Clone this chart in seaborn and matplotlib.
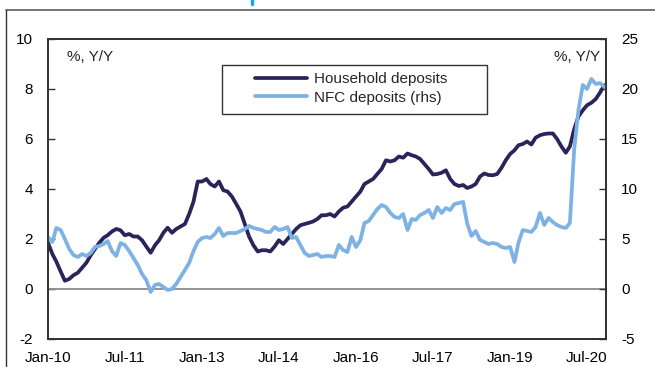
import matplotlib
matplotlib.use("Agg")
import matplotlib.pyplot as plt
from matplotlib.lines import Line2D
from matplotlib.patches import Rectangle
import seaborn as sns
import pandas as pd

# ---- data (monthly, Jan-2010 .. Nov-2020) ----
household = [1.85, 1.4, 1.1, 0.7, 0.33, 0.4, 0.55, 0.65, 0.85, 1.05,
             1.35, 1.6, 1.85, 2.05, 2.15, 2.3, 2.4, 2.35, 2.15, 2.2,
             2.1, 2.1, 1.95, 1.7, 1.45, 1.75, 1.95, 2.25, 2.45, 2.25,
             2.4, 2.5, 2.6, 3.0, 3.5, 4.3, 4.3, 4.4, 4.2, 4.1,
             4.3, 3.95, 3.9, 3.7, 3.4, 3.1, 2.6, 2.1, 1.75, 1.5,
             1.55, 1.55, 1.5, 1.7, 1.95, 1.8, 2.0, 2.2, 2.4, 2.55,
             2.6, 2.65, 2.7, 2.8, 2.95, 2.95, 3.0, 2.9, 3.1, 3.25,
             3.3, 3.5, 3.7, 3.9, 4.2, 4.3, 4.4, 4.6, 4.8, 5.15,
             5.1, 5.15, 5.3, 5.25, 5.42, 5.35, 5.3, 5.2, 5.0, 4.8,
             4.58, 4.6, 4.65, 4.75, 4.4, 4.2, 4.12, 4.16, 4.04, 4.1,
             4.2, 4.5, 4.62, 4.56, 4.55, 4.6, 4.85, 5.15, 5.4, 5.55,
             5.75, 5.8, 5.9, 5.78, 6.05, 6.15, 6.2, 6.22, 6.22, 6.0,
             5.7, 5.45, 5.7, 6.4, 6.9, 7.15, 7.35, 7.45, 7.6, 7.85,
             8.15]
nfc = [5.2, 4.7, 6.1, 5.9, 5.0, 4.0, 3.4, 3.2, 3.5, 3.3,
       3.6, 4.2, 4.3, 4.5, 4.8, 3.8, 3.3, 4.6, 4.4, 3.8,
       3.1, 2.4, 1.5, 0.9, -0.3, 0.4, 0.5, 0.2, -0.1, 0.0,
       0.5, 1.2, 1.9, 2.6, 3.8, 4.7, 5.1, 5.2, 5.1, 5.5,
       6.1, 5.3, 5.6, 5.6, 5.6, 5.8, 6.0, 6.3, 6.1, 6.0,
       5.9, 5.7, 5.7, 6.2, 5.9, 6.0, 6.2, 5.1, 5.2, 4.4,
       3.6, 3.3, 3.4, 3.5, 3.2, 3.3, 3.3, 3.2, 4.4, 3.9,
       3.7, 5.2, 4.2, 4.9, 6.6, 6.8, 7.4, 8.0, 8.4, 8.2,
       7.6, 7.2, 7.1, 7.5, 5.9, 7.0, 6.9, 7.4, 7.6, 7.9,
       7.1, 8.2, 7.6, 8.1, 7.9, 8.5, 8.6, 8.7, 6.6, 5.3,
       5.8, 4.9, 4.7, 4.5, 4.6, 4.5, 4.2, 4.1, 4.2, 2.7,
       4.6, 5.9, 5.8, 5.7, 6.2, 7.6, 6.4, 7.1, 6.7, 6.4,
       6.2, 6.1, 6.6, 14.0, 17.9, 20.4, 20.0, 21.0, 20.5, 20.6,
       20.2]
dates = pd.date_range("2010-01-01", periods=len(household), freq="MS")
tick_dates = ["2010-01-01", "2011-07-01", "2013-01-01", "2014-07-01",
              "2016-01-01", "2017-07-01", "2019-01-01", "2020-07-01"]
tick_labels = ["Jan-10", "Jul-11", "Jan-13", "Jul-14",
               "Jan-16", "Jul-17", "Jan-19", "Jul-20"]
left_ticks = [-2, 0, 2, 4, 6, 8, 10]
right_ticks = [-5, 0, 5, 10, 15, 20, 25]

df = pd.DataFrame({"date": dates, "household": household, "nfc": nfc})

sns.set_theme(style="white")
plt.rcParams["font.family"] = ["Liberation Sans", "DejaVu Sans"]
plt.rcParams["axes.unicode_minus"] = False

W, H = 655, 367
fig = plt.figure(figsize=(W / 100, H / 100), dpi=100)
ax = fig.add_axes([48 / W, 1 - 339 / H, (606 - 48) / W, 300 / H])
ax2 = ax.twinx()

navy = "#29245a"
light = "#7fb2e4"

ax.axhline(0, color="#8a8a8a", lw=1.3, zorder=1)
sns.lineplot(data=df, x="date", y="household", ax=ax, color=navy, lw=2.7,
             label="Household deposits", legend=False)
sns.lineplot(data=df, x="date", y="nfc", ax=ax2, color=light, lw=2.7,
             label="NFC deposits (rhs)", legend=False)

ax.set_ylim(-2, 10)
ax2.set_ylim(-5, 25)
ax.set_yticks(left_ticks)
ax2.set_yticks(right_ticks)
ax.set_xlim(pd.Timestamp("2010-01-01"), pd.Timestamp("2020-11-13"))
ax.set_xticks(pd.to_datetime(tick_dates))
ax.set_xticklabels(tick_labels)
ax.set_xlabel("")
ax.set_ylabel("")
ax2.set_ylabel("")

for a in (ax, ax2):
    for s in a.spines.values():
        s.set_visible(True)
        s.set_color("#333333")
        s.set_linewidth(1.3)
ax.tick_params(axis="y", direction="in", length=5, width=1, color="#333333",
               pad=11, labelsize=11, labelcolor="black", left=True)
ax2.tick_params(axis="y", direction="in", length=5, width=1, color="#333333",
                pad=11, labelsize=11, labelcolor="black", right=True)
ax.tick_params(axis="x", length=0, pad=9, labelsize=11, labelcolor="black")

# unit labels
fig.text(67 / W, 1 - 57 / H, "%, Y/Y", ha="left", va="center", fontsize=11)
fig.text(600 / W, 1 - 57 / H, "%, Y/Y", ha="right", va="center", fontsize=11)

# legend
h1 = Line2D([], [], color=navy, lw=2.7)
h2 = Line2D([], [], color=light, lw=2.7)
leg = fig.legend([h1, h2], ["Household deposits", "NFC deposits (rhs)"],
                 loc="upper left", bbox_to_anchor=(255 / W, 1 - 72 / H),
                 bbox_transform=fig.transFigure, frameon=False,
                 borderpad=0, borderaxespad=0, handlelength=3.4,
                 handletextpad=0.45, labelspacing=0.3, fontsize=11)
fig.add_artist(Rectangle((222 / W, 1 - 114 / H), (487 - 222) / W, 49 / H,
                         transform=fig.transFigure, fill=False,
                         edgecolor="#333333", lw=1.0))

# outer frame fragments
fig.add_artist(Line2D([6 / W, 1], [1 - 10 / H, 1 - 10 / H],
                      transform=fig.transFigure, color="#6a6a6a", lw=1.3))
fig.add_artist(Line2D([6 / W, 6 / W], [0, 1 - 10 / H],
                      transform=fig.transFigure, color="#333333", lw=1.0))
fig.add_artist(Line2D([252 / W, 252 / W], [1, 1 - 4 / H],
                      transform=fig.transFigure, color="#1aa3e8", lw=2.5))

fig.savefig("out.png", dpi=100)
